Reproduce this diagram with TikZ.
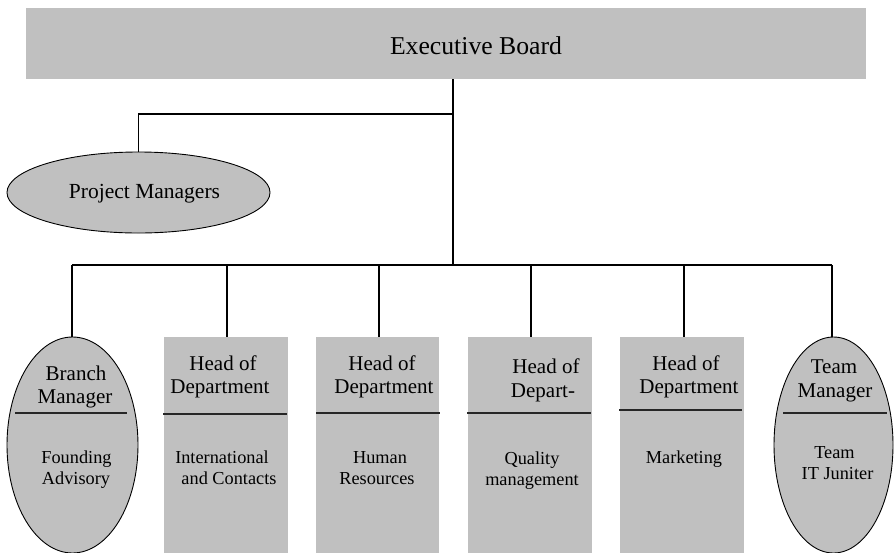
\documentclass[tikz,border=0pt]{standalone}
\usepackage{fontspec}
\setmainfont{Liberation Serif}
\usetikzlibrary{shapes.geometric}
\definecolor{boxgray}{HTML}{C0C0C0}
\tikzset{
  box/.style={rectangle, fill=boxgray, inner sep=0pt},
  oval/.style={ellipse, draw=black, line width=0.9pt, fill=boxgray, inner sep=0pt},
  conn/.style={draw=black, line width=1.3pt},
  divider/.style={draw=black!85, line width=1.8pt},
  lab/.style={anchor=base, inner sep=0pt, font=\fontsize{21}{24}\selectfont},
  sub/.style={anchor=base, inner sep=0pt, font=\fontsize{18.3}{21}\selectfont},
}
\begin{document}
\begin{tikzpicture}[x=1pt,y=-1pt]
\useasboundingbox (0,0) rectangle (894,552);
% boxes
\node[box, minimum width=840pt, minimum height=71pt] (exec) at (446,43.5) {};
\node[anchor=base, inner sep=0pt, font=\fontsize{25.7}{30}\selectfont] (execT) at (476,54) {Executive Board};
\node[oval, minimum width=263pt, minimum height=81pt] (pm) at (138.5,192.5) {};
\node[anchor=base, inner sep=0pt, font=\fontsize{21.5}{24}\selectfont] (pmT) at (144.5,198) {Project Managers};
\node[oval, minimum width=131pt, minimum height=216pt] (br) at (72.5,445) {};
\node[box, minimum width=124pt, minimum height=216pt] (d1) at (226,445) {};
\node[box, minimum width=123pt, minimum height=216pt] (d2) at (377.5,445) {};
\node[box, minimum width=124pt, minimum height=216pt] (d3) at (530,445) {};
\node[box, minimum width=124pt, minimum height=216pt] (d4) at (682,445) {};
\node[oval, minimum width=119pt, minimum height=216pt] (tm) at (833.5,445) {};
% connectors
\coordinate (j1) at (453,114);
\coordinate (j2) at (453,265);
\coordinate (bL) at (72,265);
\coordinate (bR) at (832,265);
\draw[conn] (exec.south -| j1) -- (j2);
\draw[conn] (j1) -| (pm.north);
\draw[conn] (bL) -- (bR);
\draw[conn] (bL) -- (br.north -| bL);
\draw[conn] (227,265) -- (d1.north -| 227,0);
\draw[conn] (379,265) -- (d2.north -| 379,0);
\draw[conn] (531,265) -- (d3.north -| 531,0);
\draw[conn] (684,265) -- (d4.north -| 684,0);
\draw[conn] (bR) -- (tm.north -| bR);
% dividers
\draw[divider] (15,413) -- (127,413);
\draw[divider] (163,414) -- (287,414);
\draw[divider] (316,413) -- (440,413);
\draw[divider] (467,413) -- (591,413);
\draw[divider] (619,410) -- (742,410);
\draw[divider] (783,413) -- (887,413);
% upper labels
\node[lab] (brA) at (76,380) {Branch};
\node[lab] (brB) at (75,403) {Manager};
\node[lab] (d1A) at (223,370) {Head of};
\node[lab] (d1B) at (220,393) {Department};
\node[lab] (d2A) at (382,370) {Head of};
\node[lab] (d2B) at (384,393) {Department};
\node[lab] (d3A) at (546,373) {Head of};
\node[lab] (d3B) at (543,397) {Depart-};
\node[lab] (d4A) at (686,370) {Head of};
\node[lab] (d4B) at (689,393) {Department};
\node[lab] (tmA) at (834,373) {Team};
\node[lab] (tmB) at (835,397) {Manager};
% lower labels
\node[sub] (brC) at (76.5,463) {Founding};
\node[sub] (brD) at (76,484) {Advisory};
\node[sub] (d1C) at (222,463) {International};
\node[sub] (d1D) at (229,484) {and Contacts};
\node[sub] (d2C) at (380,463) {Human};
\node[sub] (d2D) at (377,484) {Resources};
\node[sub] (d3C) at (532,464) {Quality};
\node[sub] (d3D) at (532,485) {management};
\node[sub] (d4C) at (684,463) {Marketing};
\node[sub] (tmC) at (834.5,458) {Team};
\node[sub] (tmD) at (837.5,479) {IT Juniter};
\end{tikzpicture}
\end{document}
